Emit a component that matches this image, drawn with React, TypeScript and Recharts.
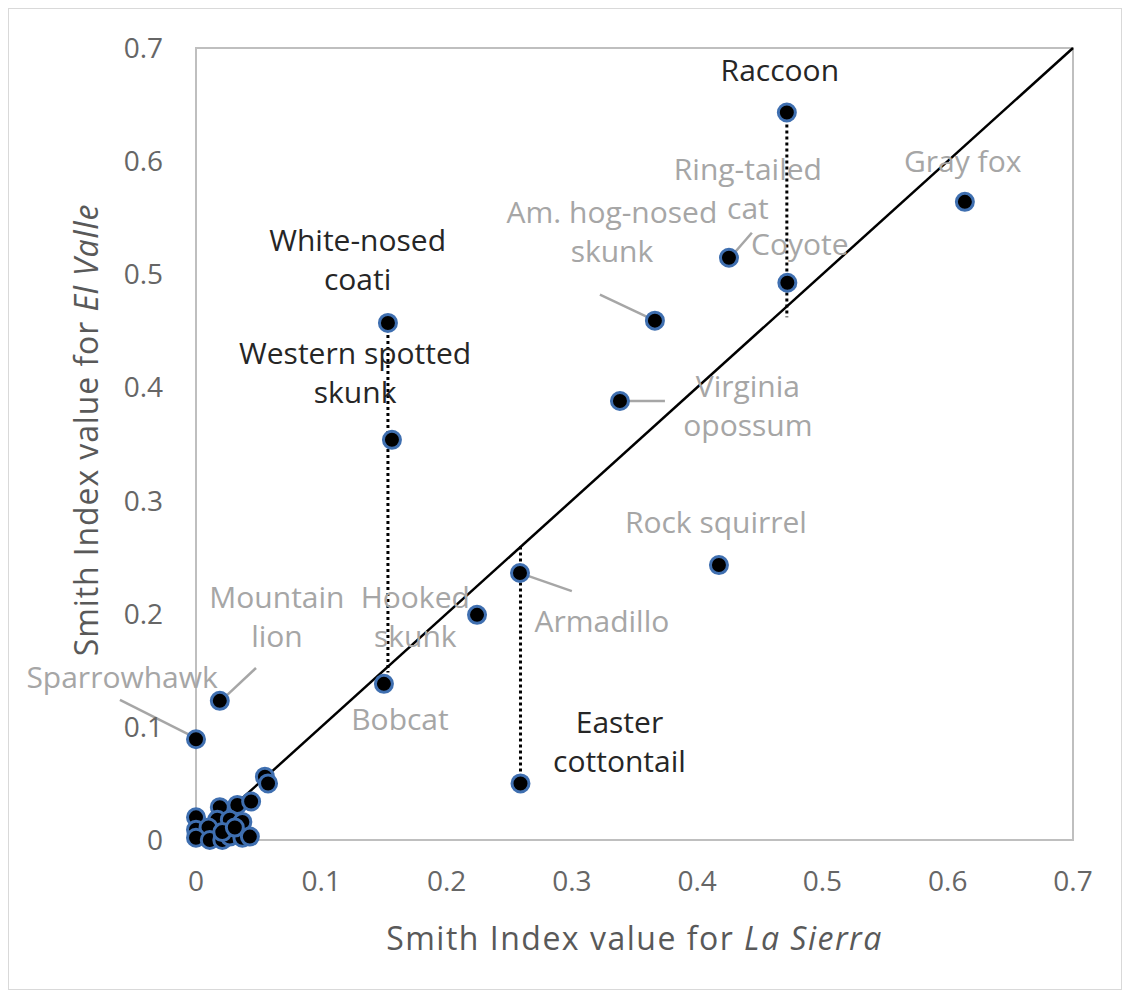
import React from 'react';
import { ScatterChart, Scatter, XAxis, YAxis, ReferenceLine, ReferenceArea, ReferenceDot } from 'recharts';

// Smith index values per species: La Sierra (x) vs El Valle (y)
const speciesNames = [
  'Raccoon', 'Coyote', 'Ring-tailed cat', 'Gray fox', 'Am. hog-nosed skunk', 'Virginia opossum',
  'White-nosed coati', 'Western spotted skunk', 'Rock squirrel', 'Hooked skunk', 'Armadillo',
  'Bobcat', 'Easter cottontail', 'Mountain lion', 'Sparrowhawk',
];
const laSierra = [0.4716, 0.472, 0.4254, 0.6137, 0.3663, 0.3384, 0.1532, 0.1564, 0.4174, 0.2243, 0.2586, 0.150, 0.259, 0.019, 0];
const elValle = [0.643, 0.4925, 0.5146, 0.564, 0.459, 0.388, 0.457, 0.3537, 0.243, 0.199, 0.236, 0.138, 0.050, 0.123, 0.089];

// rare species packed near the origin
const minorLaSierra = [0.055, 0.0575, 0, 0.019, 0.033, 0.044, 0.017, 0.027, 0.037, 0, 0.010, 0, 0.011, 0.021, 0.027, 0.037, 0.043, 0.021, 0.031];
const minorElValle = [0.056, 0.050, 0.020, 0.029, 0.031, 0.034, 0.018, 0.018, 0.016, 0.009, 0.011, 0.002, 0, 0, 0.003, 0.002, 0.003, 0.007, 0.011];

const xTicks = [0, 0.1, 0.2, 0.3, 0.4, 0.5, 0.6, 0.7];
const yTicks = [0, 0.1, 0.2, 0.3, 0.4, 0.5, 0.6, 0.7];

// 1:1 line
const diagonal = [{ x: 0.035, y: 0.035 }, { x: 0.7, y: 0.7 }];

// dotted drops: x, from y, to y
const dropX = [0.4716, 0.1532, 0.259];
const dropFrom = [0.643, 0.457, 0.050];
const dropTo = [0.462, 0.148, 0.26];

// leader lines for labels [x1, y1, x2, y2]
const leaders = [
  [0.3224, 0.482, 0.3647, 0.46],
  [0.34, 0.388, 0.3743, 0.388],
  [0.427, 0.5155, 0.4437, 0.5367],
  [0.0207, 0.1238, 0.0479, 0.152],
  [-0.0607, 0.1238, 0, 0.09],
  [0.261, 0.235, 0.300, 0.220],
];

// annotation text, centre position in data units, dark or grey
const labelText = [
  ['Raccoon'], ['Ring-tailed', 'cat'], ['Gray fox'], ['Am. hog-nosed', 'skunk'], ['Coyote'],
  ['White-nosed', 'coati'], ['Western spotted', 'skunk'], ['Virginia', 'opossum'], ['Rock squirrel'],
  ['Mountain', 'lion'], ['Hooked', 'skunk'], ['Armadillo'], ['Sparrowhawk'], ['Bobcat'], ['Easter', 'cottontail'],
];
const labelX = [0.466, 0.4405, 0.612, 0.332, 0.482, 0.129, 0.127, 0.4405, 0.415, 0.0646, 0.175, 0.324, -0.059, 0.1628, 0.338];
const labelY = [0.681, 0.5765, 0.601, 0.539, 0.528, 0.514, 0.414, 0.385, 0.282, 0.198, 0.198, 0.1945, 0.145, 0.108, 0.088];
const labelDark = [true, false, false, false, false, true, true, false, false, false, false, false, false, false, true];

const FONT = '"Open Sans", "Noto Sans", sans-serif';
const LINE_H = 39;

const points = speciesNames.map((name, i) => ({ name, x: laSierra[i], y: elValle[i] }))
  .concat(minorLaSierra.map((x, i) => ({ name: '', x, y: minorElValle[i] })));

const Marker = (p: any) => (
  <circle cx={p.cx} cy={p.cy} r={8.5} fill="#000" stroke="#3f6fb0" strokeWidth={3} />
);

const makeLabel = (lines: string[], dark: boolean) => (p: any) => (
  <text
    x={p.cx}
    y={p.cy}
    textAnchor="middle"
    dominantBaseline="central"
    fill={dark ? '#262626' : '#a6a6a6'}
    fontSize={30}
    fontFamily={FONT}
  >
    {lines.map((l, i) => (
      <tspan key={i} x={p.cx} dy={i === 0 ? -((lines.length - 1) * LINE_H) / 2 : LINE_H}>{l}</tspan>
    ))}
  </text>
);

const XTitle = (props: any) => {
  const { x, y, width } = props.viewBox;
  return (
    <text x={x + width / 2} y={y + 97} textAnchor="middle" dominantBaseline="central"
      fill="#595959" fontSize={32} fontFamily={FONT} letterSpacing={1.5}>
      Smith Index value for <tspan fontStyle="italic">La Sierra</tspan>
    </text>
  );
};

const YTitle = (props: any) => {
  const { x, y, width, height } = props.viewBox;
  const cx = x + width - 111;
  const cy = y + height / 2 - 14;
  return (
    <text x={cx} y={cy} textAnchor="middle" dominantBaseline="central" transform={`rotate(-90, ${cx}, ${cy})`}
      fill="#595959" fontSize={32} fontFamily={FONT} letterSpacing={0.9}>
      Smith Index value for <tspan fontStyle="italic">El Valle</tspan>
    </text>
  );
};

export default function App() {
  return (
    <div style={{ width: 1112, height: 980, border: '1px solid #d9d9d9', background: '#fff' }}>
      <ScatterChart width={1112} height={980} margin={{ top: 39, right: 48, bottom: 49, left: 97 }}>
        <ReferenceArea x1={0} x2={0.7} y1={0} y2={0.7} fill="none" stroke="#bfbfbf" strokeWidth={2} />
        <XAxis
          type="number"
          dataKey="x"
          domain={[0, 0.7]}
          ticks={xTicks}
          tickFormatter={(v) => String(v)}
          height={100}
          tickLine={false}
          tickSize={0}
          tickMargin={31}
          axisLine={{ stroke: '#bfbfbf', strokeWidth: 2 }}
          tick={{ fill: '#666666', fontSize: 28, fontFamily: FONT }}
          label={<XTitle />}
        />
        <YAxis
          type="number"
          dataKey="y"
          domain={[0, 0.7]}
          ticks={yTicks}
          tickFormatter={(v) => String(v)}
          width={90}
          tickLine={false}
          tickSize={0}
          tickMargin={33}
          axisLine={{ stroke: '#bfbfbf', strokeWidth: 2 }}
          tick={{ fill: '#666666', fontSize: 28, fontFamily: FONT }}
          label={<YTitle />}
        />
        <ReferenceLine segment={diagonal} stroke="#000" strokeWidth={2.5} ifOverflow="visible" />
        {dropX.map((x, i) => (
          <ReferenceLine key={`d${i}`} segment={[{ x, y: dropFrom[i] }, { x, y: dropTo[i] }]}
            stroke="#000" strokeWidth={3} strokeDasharray="3 3" ifOverflow="visible" />
        ))}
        {leaders.map((l, i) => (
          <ReferenceLine key={`l${i}`} segment={[{ x: l[0], y: l[1] }, { x: l[2], y: l[3] }]}
            stroke="#a6a6a6" strokeWidth={2.5} ifOverflow="visible" />
        ))}
        <Scatter data={points} shape={<Marker />} isAnimationActive={false} />
        {labelText.map((lines, i) => (
          <ReferenceDot key={`t${i}`} x={labelX[i]} y={labelY[i]} r={0} ifOverflow="visible"
            shape={makeLabel(lines, labelDark[i])} />
        ))}
      </ScatterChart>
    </div>
  );
}
